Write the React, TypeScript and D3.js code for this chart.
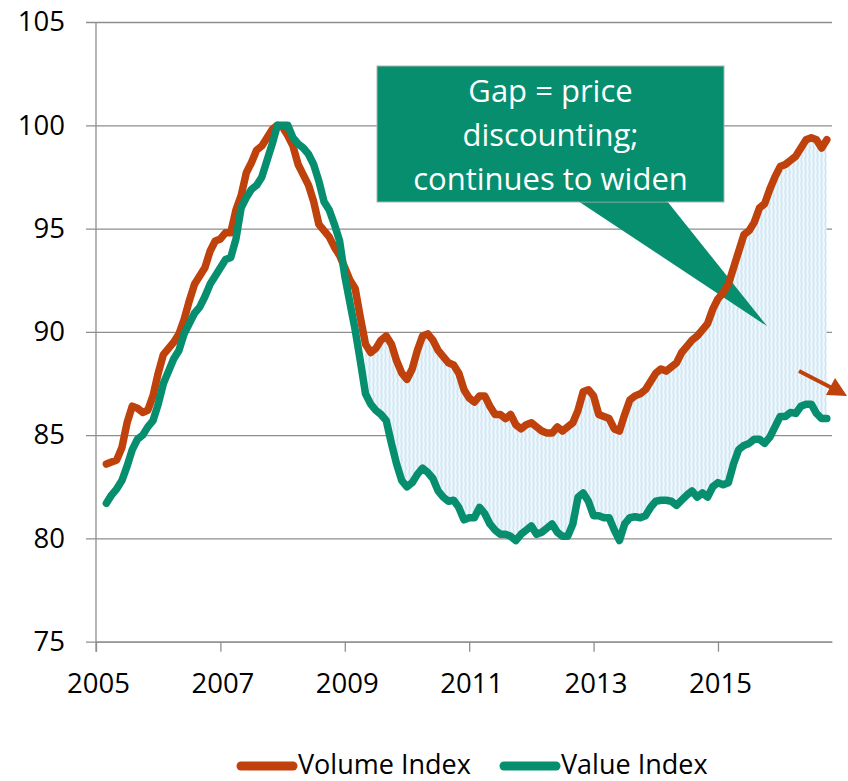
import { useRef, useEffect } from "react";
import * as d3 from "d3";

// monthly data, first point = March 2005 (month 2 counted from Jan 2005)
const firstMonth = 2;
const volumeIndex = [
  83.6, 83.7, 83.8, 84.4, 85.6, 86.4, 86.3, 86.1, 86.2, 86.9,
  88.0, 88.9, 89.2, 89.5, 89.9, 90.6, 91.5, 92.3, 92.7, 93.1,
  93.9, 94.4, 94.5, 94.8, 94.8, 95.9, 96.6, 97.7, 98.2, 98.8,
  99.0, 99.4, 99.8, 100.0, 99.9, 99.5, 99.0, 98.1, 97.6, 97.1,
  96.3, 95.2, 94.9, 94.6, 94.1, 93.7, 93.1, 92.5, 92.1, 90.7,
  89.4, 89.0, 89.2, 89.6, 89.8, 89.4, 88.6, 88.0, 87.7, 88.2,
  89.1, 89.8, 89.9, 89.6, 89.1, 88.8, 88.5, 88.4, 88.0, 87.2,
  86.8, 86.6, 86.9, 86.9, 86.4, 86.0, 86.0, 85.8, 86.0, 85.5,
  85.3, 85.5, 85.6, 85.4, 85.2, 85.1, 85.1, 85.4, 85.2, 85.4,
  85.6, 86.2, 87.1, 87.2, 86.9, 86.0, 85.9, 85.8, 85.3, 85.2,
  86.0, 86.7, 86.9, 87.0, 87.2, 87.6, 88.0, 88.2, 88.1, 88.3,
  88.5, 89.0, 89.3, 89.6, 89.8, 90.1, 90.4, 91.1, 91.6, 91.9,
  92.3, 93.1, 93.9, 94.7, 94.9, 95.3, 96.0, 96.2, 96.9, 97.5,
  98.0, 98.1, 98.3, 98.5, 98.9, 99.3, 99.4, 99.3, 98.9, 99.3,
];
const valueIndex = [
  81.7, 82.1, 82.4, 82.8, 83.5, 84.3, 84.8, 85.0, 85.4, 85.7,
  86.5, 87.5, 88.1, 88.7, 89.1, 89.9, 90.4, 90.9, 91.2, 91.7,
  92.3, 92.7, 93.1, 93.5, 93.6, 94.5, 96.0, 96.5, 96.9, 97.1,
  97.5, 98.3, 99.1, 100.0, 100.0, 100.0, 99.4, 99.1, 98.9, 98.6,
  98.1, 97.3, 96.3, 95.9, 95.2, 94.4, 92.7, 91.4, 90.1, 88.6,
  87.0, 86.5, 86.2, 86.0, 85.7, 84.6, 83.6, 82.8, 82.5, 82.7,
  83.1, 83.4, 83.2, 82.9, 82.3, 82.0, 81.8, 81.85, 81.5, 80.9,
  81.0, 81.0, 81.5, 81.2, 80.7, 80.4, 80.2, 80.2, 80.1, 79.9,
  80.2, 80.4, 80.6, 80.2, 80.3, 80.5, 80.7, 80.3, 80.1, 80.1,
  80.7, 82.0, 82.2, 81.8, 81.1, 81.1, 81.0, 81.0, 80.4, 79.9,
  80.7, 81.0, 81.05, 81.0, 81.1, 81.5, 81.8, 81.85, 81.85, 81.8,
  81.6, 81.85, 82.1, 82.3, 82.0, 82.2, 82.0, 82.5, 82.7, 82.6,
  82.7, 83.6, 84.3, 84.5, 84.6, 84.8, 84.8, 84.6, 84.9, 85.4,
  85.9, 85.9, 86.1, 86.05, 86.4, 86.5, 86.5, 86.05, 85.8, 85.8,
];
const seriesNames = ["Volume Index", "Value Index"];
const yTicks = [75, 80, 85, 90, 95, 100, 105];
const xTickYears = [2005, 2007, 2009, 2011, 2013, 2015];
const gapStartMonth = 52; // shading between the lines starts here
const calloutLines = ["Gap = price", "discounting;", "continues to widen"];

const orange = "#BF410B";
const green = "#068E6E";
const grid = "#8E8E8E";
const font = "'Open Sans', 'Noto Sans', sans-serif";

function App() {
  const ref = useRef<SVGSVGElement | null>(null);
  const width = 848;
  const height = 781;

  useEffect(() => {
    if (!ref.current) return;
    const svg = d3.select(ref.current).html("");

    const left = 96;
    const right = 832;
    const top = 22;
    const bottom = 641.7;

    const x = d3.scaleLinear().domain([0, 142]).range([left, right]);
    const y = d3.scaleLinear().domain([75, 105]).range([bottom, top]);

    const pts = volumeIndex.map((v, i) => ({
      m: firstMonth + i,
      vol: v,
      val: valueIndex[i],
    }));

    // hatch pattern for the gap
    const defs = svg.append("defs");
    const pat = defs
      .append("pattern")
      .attr("id", "hatch")
      .attr("patternUnits", "userSpaceOnUse")
      .attr("width", 4)
      .attr("height", 8);
    pat.append("rect").attr("width", 4).attr("height", 8).attr("fill", "#EEF7FC");
    pat
      .append("path")
      .attr("d", "M1,0 L2,4 L1,8")
      .attr("stroke", "#CDE7F6")
      .attr("stroke-width", 1.6)
      .attr("fill", "none");

    // y gridlines + labels
    const yAxis = svg
      .append("g")
      .attr("transform", `translate(${left - 10},0)`)
      .call(
        d3
          .axisLeft(y)
          .tickValues(yTicks)
          .tickSize(-(right - left + 10))
          .tickPadding(21)
          .tickFormat((d: any) => String(d))
      );
    yAxis.select(".domain").remove();
    yAxis.selectAll(".tick line").attr("stroke", grid).attr("stroke-width", 1.3);
    yAxis
      .selectAll(".tick text")
      .attr("fill", "#000")
      .style("font-family", font)
      .style("font-size", "27.5px");

    // x axis
    const xAxis = svg
      .append("g")
      .attr("transform", `translate(0,${bottom})`)
      .call(
        d3
          .axisBottom(x)
          .tickValues(xTickYears.map((yr) => (yr - 2005) * 12))
          .tickSize(10)
          .tickSizeOuter(0)
          .tickPadding(22)
          .tickFormat((d: any) => String(2005 + d / 12))
      );
    xAxis.select(".domain").attr("stroke", grid).attr("stroke-width", 1.3);
    xAxis.selectAll(".tick line").attr("stroke", grid).attr("stroke-width", 1.3);
    xAxis
      .selectAll(".tick text")
      .attr("fill", "#000")
      .attr("dx", 2)
      .style("font-family", font)
      .style("font-size", "27.5px");

    // y axis line
    svg
      .append("line")
      .attr("x1", left)
      .attr("x2", left)
      .attr("y1", top)
      .attr("y2", bottom + 10)
      .attr("stroke", grid)
      .attr("stroke-width", 1.3);

    // gap shading
    const area = d3
      .area<any>()
      .x((d) => x(d.m))
      .y0((d) => y(d.val))
      .y1((d) => y(d.vol));
    svg
      .append("path")
      .datum(pts.filter((d) => d.m >= gapStartMonth))
      .attr("fill", "url(#hatch)")
      .attr("d", area as any);

    // callout
    const box = { x0: 377, x1: 724, y0: 66, y1: 202 };
    const tip = [x(129.5), y(90.27)];
    svg
      .append("path")
      .attr("d", `M${box.x0 + 201},${box.y1 - 1} L${tip[0]},${tip[1]} L${box.x0 + 290},${box.y1 - 1} Z`)
      .attr("fill", green);
    svg
      .append("rect")
      .attr("x", box.x0)
      .attr("y", box.y0)
      .attr("width", box.x1 - box.x0)
      .attr("height", box.y1 - box.y0)
      .attr("fill", green)
      .attr("stroke", "#A9B5B0")
      .attr("stroke-width", 1);
    svg
      .append("path")
      .attr("d", `M${box.x0 + 202},${box.y1 - 1.5} L${box.x0 + 289},${box.y1 - 1.5}`)
      .attr("stroke", green)
      .attr("stroke-width", 2);
    svg
      .append("g")
      .selectAll("text")
      .data(calloutLines)
      .enter()
      .append("text")
      .attr("x", (box.x0 + box.x1) / 2)
      .attr("y", (d, i) => 102 + i * 44)
      .attr("text-anchor", "middle")
      .attr("fill", "#fff")
      .style("font-family", font)
      .style("font-size", "31px")
      .text((d) => d);

    // lines
    const lineVol = d3
      .line<any>()
      .x((d) => x(d.m))
      .y((d) => y(d.vol));
    const lineVal = d3
      .line<any>()
      .x((d) => x(d.m))
      .y((d) => y(d.val));
    svg
      .append("path")
      .datum(pts)
      .attr("fill", "none")
      .attr("stroke", orange)
      .attr("stroke-width", 7.5)
      .attr("stroke-linejoin", "round")
      .attr("stroke-linecap", "round")
      .attr("d", lineVol as any);
    svg
      .append("path")
      .datum(pts)
      .attr("fill", "none")
      .attr("stroke", green)
      .attr("stroke-width", 7.5)
      .attr("stroke-linejoin", "round")
      .attr("stroke-linecap", "round")
      .attr("d", lineVal as any);

    // small arrow
    svg
      .append("line")
      .attr("x1", 799)
      .attr("y1", 371)
      .attr("x2", 832)
      .attr("y2", 388)
      .attr("stroke", orange)
      .attr("stroke-width", 4);
    svg
      .append("path")
      .attr("d", "M847,396 L826,395 L835,378 Z")
      .attr("fill", orange);

    // legend
    const legendItems = [
      { name: seriesNames[0], color: orange, lx: 237, tx: 298 },
      { name: seriesNames[1], color: green, lx: 500, tx: 561 },
    ];
    const lg = svg
      .selectAll(".legend")
      .data(legendItems)
      .enter()
      .append("g")
      .attr("class", "legend");
    lg.append("line")
      .attr("x1", (d) => d.lx + 4)
      .attr("x2", (d) => d.lx + 56)
      .attr("y1", 766)
      .attr("y2", 766)
      .attr("stroke", (d) => d.color)
      .attr("stroke-width", 9)
      .attr("stroke-linecap", "round");
    lg.append("text")
      .attr("x", (d) => d.tx)
      .attr("y", 774)
      .attr("fill", "#000")
      .style("font-family", font)
      .style("font-size", "27px")
      .text((d) => d.name);
  }, []);

  return (
    <svg
      ref={ref}
      width={width}
      height={height}
      style={{ position: "absolute", left: 0, top: 0, background: "#fff" }}
    ></svg>
  );
}

export default App;
